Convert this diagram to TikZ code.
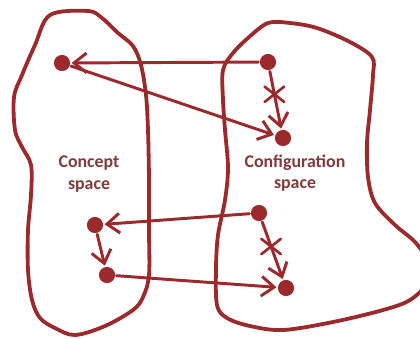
\documentclass[tikz,border=0pt]{standalone}
\usepackage{fontspec}
\setmainfont{Carlito}
\usetikzlibrary{arrows.meta,shapes.misc}
\definecolor{sketchred}{RGB}{156,42,44}
\definecolor{labelred}{RGB}{130,58,58}
\begin{document}
\begin{tikzpicture}
[x=0.025cm, y=-0.025cm, sketchred, line width=2.1pt, line cap=round, line join=round,
 >={Straight Barb[length=9pt,width=14pt]},
 dot/.style={circle, fill=sketchred, inner sep=0pt, minimum size=11.5pt},
 blob/.style={line width=2.7pt},
 spacename/.style={text=labelred, align=center, font=\bfseries\fontsize{12.7}{15}\selectfont},
 nogo/.style={draw, cross out, minimum width=12pt, minimum height=9pt, inner sep=0pt, line width=1.9pt}]
\useasboundingbox (0,0) rectangle (420,338);
\clip (0,0) rectangle (420,338);

% the two spaces
\draw[blob] plot[smooth cycle, tension=0.55] coordinates {(50,15) (88,11) (102,18) (118,33) (133,46) (141,65) (146,95) (148,130) (149,180) (149,230) (149,275) (143,297) (133,310) (105,326) (75,335) (55,328) (40,318) (32,300) (28,270) (28,230) (31,195) (31,165) (22,147) (15,130) (14,97) (22,75) (35,45)};
\draw[blob] plot[smooth cycle, tension=0.55] coordinates {(268,23) (290,23) (317,28) (350,42) (372,57) (373,75) (370,110) (367,143) (368,177) (375,203) (395,225) (415,242) (428,262) (428,282) (410,300) (383,310) (333,322) (283,330) (250,326) (227,318) (217,305) (216,268) (218,235) (225,200) (228,168) (225,130) (223,100) (223,70) (233,53) (248,38)};

\node (ConName) at (89,174) [spacename] {Concept\\space};
\node (CfgName) at (295,173) [spacename] {Configuration\\space};

% upper points
\node (ConTop) at (62,63) [dot] {};
\node (CfgTop) at (268,62) [dot] {};
\node (CfgMid) at (283,138) [dot] {};
\draw[->] (CfgTop) -- (ConTop);
\draw[->] (ConTop) -- (CfgMid);
\draw[->] (CfgTop) -- node[nogo, pos=.4] {} (CfgMid);

% lower points
\node (ConLow) at (95,225) [dot] {};
\node (ConEnd) at (107,275) [dot] {};
\node (CfgLow) at (259,213) [dot] {};
\node (CfgEnd) at (286,288) [dot] {};
\draw[->] (CfgLow) -- (ConLow);
\draw[->] (ConLow) -- (ConEnd);
\draw[->] (ConEnd) -- (CfgEnd);
\draw[->] (CfgLow) -- node[nogo, pos=.43] {} (CfgEnd);
\end{tikzpicture}
\end{document}
